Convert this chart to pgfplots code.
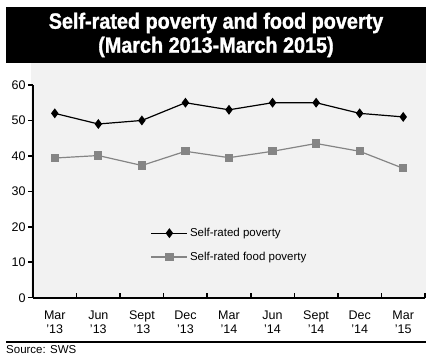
\documentclass[border=0pt]{standalone}
\usepackage{fontspec}
\setmainfont{Liberation Sans}
\newfontfamily\titlefont{Liberation Sans Bold}[FakeStretch=0.9, FakeBold=1.3]
\usepackage{pgfplots}
\pgfplotsset{compat=1.18}
\definecolor{bggray}{HTML}{F2F2F2}
\definecolor{foodgray}{HTML}{858585}
\pgfplotstableread{
x pov food
0 52 39.4
1 49 40.1
2 50 37.3
3 55 41.3
4 53 39.5
5 55 41.3
6 55 43.5
7 52 41.3
8 51 36.5
}\datatab
\begin{document}
\begin{tikzpicture}[x=1pt,y=1pt]
\path[fill=white] (0,0) rectangle (434,364);
\fill[bggray] (31,67) rectangle (426,301);
\fill[black] (6,301) rectangle (426,357);
\node[text=white, font=\titlefont\fontsize{22}{24}\selectfont, align=center] at (216,329) {Self-rated poverty and food poverty\\(March 2013-March 2015)};
\draw[line width=2pt] (6,22) -- (426,22);
\node[anchor=base west, font=\fontsize{11.5}{13}\selectfont, inner sep=0] at (6,10) {Source: SWS};
\begin{axis}[
  at={(33pt,66.3pt)}, anchor=south west,
  scale only axis, width=392pt, height=212.7pt,
  xmin=-0.5, xmax=8.5, ymin=0, ymax=60,
  axis x line*=bottom, axis y line*=left,
  axis line style={line width=1.8pt},
  xtick={0.5,1.5,...,8.5},
  xticklabels={Mar\\’13,Jun\\’13,Sept\\’13,Dec\\’13,Mar\\’14,Jun\\’14,Sept\\’14,Dec\\’14,Mar\\’15},
  x tick label style={align=center, xshift=-21.78pt, font=\fontsize{12.5}{13.5}\selectfont, yshift=-10pt},
  ytick={0,10,...,60},
  y tick label style={font=\fontsize{12.5}{13}\selectfont, xshift=1pt},
  /pgf/number format/assume math mode=true,
  xtick align=inside, ytick align=outside,
  major tick length=5pt,
  tick style={line width=1.5pt, black},
  legend style={at={(0.3,0.337)}, anchor=north west, draw=none, fill=none,
    font=\fontsize{11.5}{13}\selectfont, row sep=10pt, inner sep=0pt},
  legend cell align=left,
  legend image code/.code={\draw[mark repeat=2,mark phase=2,#1] plot coordinates {(0pt,0pt) (18pt,0pt) (36pt,0pt)};},
]
\addplot[black, line width=1.2pt, mark=diamond*, mark size=4pt, mark options={solid}] table[x=x,y=pov] {\datatab};
\addlegendentry{Self-rated poverty}
\addplot[foodgray, line width=1.2pt, mark=square*, mark size=3.5pt] table[x=x,y=food] {\datatab};
\addlegendentry{Self-rated food poverty}
\end{axis}
\end{tikzpicture}
\end{document}
